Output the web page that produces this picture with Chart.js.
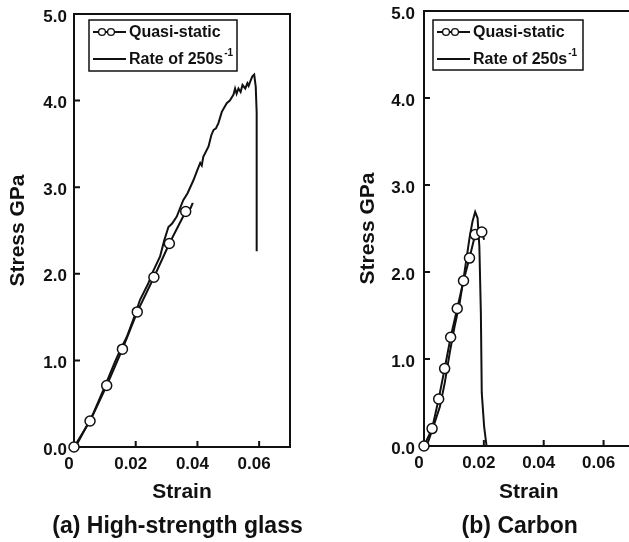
<!DOCTYPE html>
<html>
<head>
<meta charset="utf-8">
<script src="https://cdn.jsdelivr.net/npm/chart.js@4.4.1/dist/chart.umd.min.js"></script>
<style>
  html, body { margin: 0; padding: 0; background: #fff; overflow: hidden; width: 629px; height: 542px; }
  .panel { position: absolute; top: 0; height: 542px; }
  #glassBox { left: 0; width: 312px; }
  #carbonBox { left: 340px; width: 300px; }
</style>
</head>
<body>
<div class="panel" id="glassBox"><canvas id="glassChart" width="312" height="542"></canvas></div>
<div class="panel" id="carbonBox"><canvas id="carbonChart" width="300" height="542"></canvas></div>
<script>
// axis ticks shared by both panels
const xTicks = [0, 0.02, 0.04, 0.06];
const xTickLabels = ['0', '0.02', '0.04', '0.06'];
const yTicks = [0, 1, 2, 3, 4, 5];
const yTickLabels = ['0.0', '1.0', '2.0', '3.0', '4.0', '5.0'];
const seriesNames = ['Quasi-static', 'Rate of 250s'];
const rateSup = '-1';

// (a) high-strength glass, strain vs stress (GPa)
const glassQuasiStrain = [0, 0.0052, 0.0106, 0.0157, 0.0205, 0.0259, 0.0309, 0.0362, 0.0378, 0.0385];
const glassQuasiStress = [0, 0.30, 0.71, 1.13, 1.56, 1.96, 2.35, 2.72, 2.76, 2.82];
const glassRateStrain = [0.0005, 0.0063, 0.0100, 0.0133, 0.0150, 0.0171, 0.0195, 0.0214, 0.0241, 0.0255,
  0.0279, 0.0292, 0.0306, 0.0318, 0.0333, 0.0354, 0.0368, 0.0387, 0.0400, 0.0409, 0.0414, 0.0419,
  0.0436, 0.0445, 0.0452, 0.0460, 0.0468, 0.0479, 0.0487, 0.0495, 0.0505, 0.0517, 0.0522, 0.0527,
  0.0533, 0.0540, 0.0546, 0.0555, 0.0562, 0.0566, 0.0571, 0.0578, 0.0584, 0.0589, 0.0592, 0.0592];
const glassRateStress = [0, 0.39, 0.70, 0.985, 1.12, 1.27, 1.50, 1.70, 1.89, 2.02,
  2.20, 2.38, 2.54, 2.58, 2.66, 2.85, 2.93, 3.08, 3.20, 3.28, 3.25, 3.35,
  3.47, 3.60, 3.66, 3.68, 3.74, 3.87, 3.92, 3.97, 4.00, 4.07, 4.14, 4.08,
  4.14, 4.10, 4.18, 4.14, 4.20, 4.17, 4.22, 4.28, 4.30, 4.16, 3.86, 2.26];

// (b) carbon
const carbonQuasiStrain = [0, 0.0027, 0.0049, 0.0069, 0.0089, 0.0111, 0.0132, 0.0152, 0.0171, 0.0193, 0.0201];
const carbonQuasiStress = [0, 0.20, 0.54, 0.89, 1.25, 1.58, 1.90, 2.16, 2.43, 2.46, 2.37];
const carbonRateStrain = [0.0009, 0.0031, 0.0053, 0.0069, 0.0086, 0.0102, 0.0119, 0.0135, 0.0152,
  0.0162, 0.0171, 0.0179, 0.0185, 0.0190, 0.0193, 0.0201, 0.0209];
const carbonRateStress = [0, 0.22, 0.45, 0.72, 1.07, 1.37, 1.64, 1.99, 2.39,
  2.58, 2.69, 2.62, 2.29, 1.53, 0.61, 0.22, 0];

const ink = '#111';
const family = '"Liberation Sans", Arial, Helvetica, sans-serif';

function toPoints(xs, ys) {
  return xs.map((x, i) => ({ x: x, y: ys[i] }));
}

// box around the plot with short inward tick marks
const framePlugin = {
  id: 'frame',
  beforeDatasetsDraw(chart) {
    const ctx = chart.ctx, a = chart.chartArea;
    const sx = chart.scales.x, sy = chart.scales.y;
    ctx.save();
    ctx.strokeStyle = ink;
    ctx.lineWidth = 2;
    ctx.strokeRect(a.left, a.top, a.right - a.left, a.bottom - a.top);
    ctx.beginPath();
    xTicks.forEach(v => {
      if (v <= sx.min || v >= sx.max) return;
      const px = sx.getPixelForValue(v);
      ctx.moveTo(px, a.bottom);
      ctx.lineTo(px, a.bottom - 6);
    });
    yTicks.forEach(v => {
      if (v <= sy.min || v >= sy.max) return;
      const py = sy.getPixelForValue(v);
      ctx.moveTo(a.left, py);
      ctx.lineTo(a.left + 6, py);
    });
    ctx.stroke();
    ctx.restore();
  }
};

// axis titles, panel caption and the boxed key
const textPlugin = {
  id: 'texts',
  afterDraw(chart, args, opts) {
    const ctx = chart.ctx, a = chart.chartArea;
    const midX = (a.left + a.right) / 2;
    ctx.save();
    ctx.fillStyle = ink;
    ctx.textAlign = 'center';
    ctx.textBaseline = 'middle';

    ctx.font = 'bold 21px ' + family;
    ctx.fillText('Strain', midX, 492);
    ctx.save();
    ctx.translate(a.left - 56, (a.top + a.bottom) / 2);
    ctx.rotate(-Math.PI / 2);
    ctx.fillText('Stress GPa', 0, 0);
    ctx.restore();

    ctx.font = 'bold 23px ' + family;
    ctx.fillText(opts.caption, midX + opts.captionDx, 527);

    // key
    const kx = a.left + opts.keyDx, ky = a.top + opts.keyDy;
    ctx.lineWidth = 1.5;
    ctx.strokeStyle = ink;
    ctx.strokeRect(kx, ky, opts.keyW, opts.keyH);

    ctx.lineWidth = 2;
    ctx.beginPath();
    ctx.moveTo(kx + 4, ky + 12);
    ctx.lineTo(kx + 37, ky + 12);
    ctx.moveTo(kx + 4, ky + 39);
    ctx.lineTo(kx + 37, ky + 39);
    ctx.stroke();
    ctx.lineWidth = 1.3;
    ctx.fillStyle = '#fff';
    [kx + 13, kx + 22].forEach(cx => {
      ctx.beginPath();
      ctx.arc(cx, ky + 12, 3.4, 0, Math.PI * 2);
      ctx.fill();
      ctx.stroke();
    });

    ctx.fillStyle = ink;
    ctx.textAlign = 'left';
    ctx.font = 'bold 16px ' + family;
    ctx.fillText(seriesNames[0], kx + 40, ky + 13);
    ctx.fillText(seriesNames[1], kx + 40, ky + 40);
    const w = ctx.measureText(seriesNames[1]).width;
    ctx.font = 'bold 10px ' + family;
    ctx.fillText(rateSup, kx + 40 + w + 1, ky + 33);
    ctx.restore();
  }
};

function makeChart(id, quasi, rate, cfg) {
  return new Chart(document.getElementById(id), {
    type: 'scatter',
    data: {
      datasets: [
        {
          label: seriesNames[0],
          data: quasi,
          showLine: true,
          borderColor: ink,
          borderWidth: 2,
          pointRadius: c => c.dataIndex >= c.dataset.data.length - cfg.quasiTail ? 0 : 5,
          pointBackgroundColor: '#fff',
          pointBorderColor: ink,
          pointBorderWidth: 1.5,
          clip: false
        },
        {
          label: seriesNames[1],
          data: rate,
          showLine: true,
          borderColor: ink,
          borderWidth: 2,
          pointRadius: 0
        }
      ]
    },
    options: {
      responsive: false,
      animation: false,
      events: [],
      layout: { padding: { left: 0, right: cfg.padRight, top: cfg.padTop, bottom: 0 } },
      plugins: {
        legend: { display: false },
        tooltip: { enabled: false },
        texts: { caption: cfg.caption, captionDx: cfg.captionDx, keyDx: cfg.keyDx, keyDy: cfg.keyDy,
                 keyW: cfg.keyW, keyH: cfg.keyH }
      },
      scales: {
        x: {
          type: 'linear',
          min: 0,
          max: 0.07,
          afterFit: s => { s.height = cfg.xAxisHeight; s.paddingLeft = 0; s.paddingRight = 0; },
          afterBuildTicks: s => { s.ticks = xTicks.map(v => ({ value: v })); },
          grid: { display: false, drawTicks: false },
          border: { display: false },
          ticks: {
            callback: (v, i) => xTickLabels[i],
            color: ink,
            font: { family: family, size: 17, weight: 'bold' },
            padding: 7,
            labelOffset: -5,
            maxRotation: 0,
            autoSkip: false
          }
        },
        y: {
          type: 'linear',
          min: 0,
          max: 5,
          afterFit: s => { s.width = cfg.yAxisWidth; s.paddingTop = 0; s.paddingBottom = 0; },
          afterBuildTicks: s => { s.ticks = yTicks.map(v => ({ value: v })); },
          grid: { display: false, drawTicks: false },
          border: { display: false },
          ticks: {
            callback: (v, i) => yTickLabels[i],
            color: ink,
            font: { family: family, size: 17, weight: 'bold' },
            padding: cfg.yPad,
            labelOffset: 3,
            autoSkip: false
          }
        }
      }
    },
    plugins: [framePlugin, textPlugin]
  });
}

makeChart('glassChart',
  toPoints(glassQuasiStrain, glassQuasiStress),
  toPoints(glassRateStrain, glassRateStress),
  { caption: '(a) High-strength glass', captionDx: -4.5, padTop: 14, padRight: 22, xAxisHeight: 95,
    yAxisWidth: 74, yPad: 7, keyDx: 15, keyDy: 6, keyW: 148, keyH: 51, quasiTail: 2 });

makeChart('carbonChart',
  toPoints(carbonQuasiStrain, carbonQuasiStress),
  toPoints(carbonRateStrain, carbonRateStress),
  { caption: '(b) Carbon', captionDx: -9, padTop: 11, padRight: 3.5, xAxisHeight: 96,
    yAxisWidth: 84, yPad: 9, keyDx: 9, keyDy: 9, keyW: 150, keyH: 50, quasiTail: 1 });
</script>
</body>
</html>
